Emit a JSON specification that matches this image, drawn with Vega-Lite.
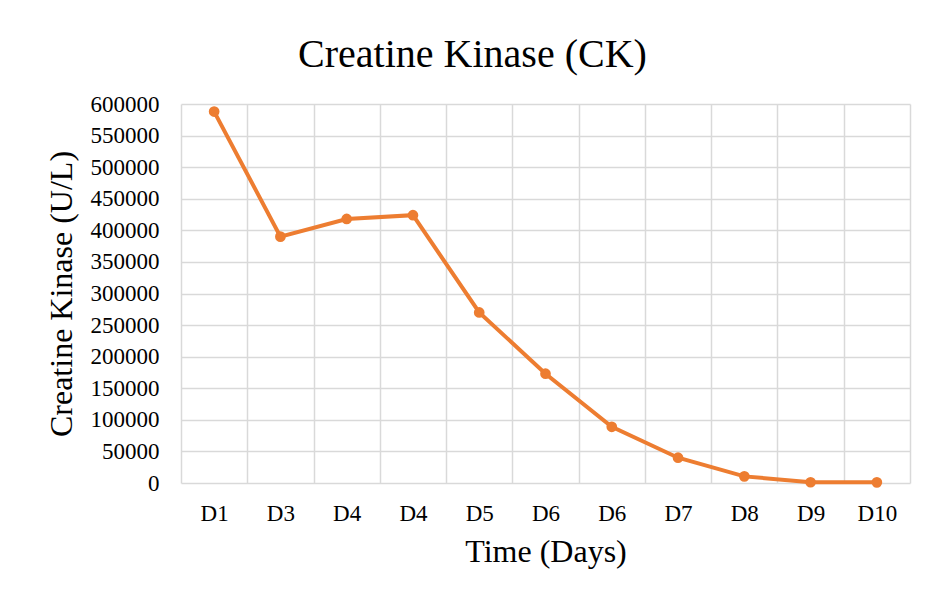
{
  "$schema": "https://vega.github.io/schema/vega-lite/v6.json",
  "autosize": {"type": "none"},
  "width": 729,
  "height": 379,
  "padding": {"left": 181, "top": 104, "right": 23, "bottom": 110},
  "background": "white",
  "title": {
    "text": "Creatine Kinase (CK)",
    "font": "Liberation Serif",
    "fontSize": 40,
    "fontWeight": "normal",
    "color": "black",
    "anchor": "middle",
    "baseline": "alphabetic",
    "offset": -14,
    "dx": -73
  },
  "data": {
    "values": [
      {"day": "D1", "ck": 588000},
      {"day": "D3", "ck": 390000},
      {"day": "D4a", "ck": 418000},
      {"day": "D4b", "ck": 424000},
      {"day": "D5", "ck": 270000},
      {"day": "D6a", "ck": 173000},
      {"day": "D6b", "ck": 89000},
      {"day": "D7", "ck": 40000},
      {"day": "D8", "ck": 10500},
      {"day": "D9", "ck": 1200},
      {"day": "D10", "ck": 1000}
    ]
  },
  "mark": {"type": "line", "color": "#ED7D31", "strokeWidth": 4, "point": {"filled": true, "size": 115, "color": "#ED7D31"}},
  "encoding": {
    "x": {
      "field": "day",
      "type": "nominal",
      "sort": null,
      "scale": {"type": "band", "paddingInner": 0, "paddingOuter": 0},
      "axis": {
        "title": "Time (Days)",
        "labelExpr": "replace(datum.label, regexp('[ab]$'), '')",
        "labelAngle": 0,
        "tickBand": "extent",
        "ticks": false,
        "domain": false,
        "grid": true,
        "labelPadding": 19,
        "titlePadding": 11
      }
    },
    "y": {
      "field": "ck",
      "type": "quantitative",
      "scale": {"domain": [0, 600000], "nice": false},
      "axis": {
        "title": "Creatine Kinase (U/L)",
        "values": [0, 50000, 100000, 150000, 200000, 250000, 300000, 350000, 400000, 450000, 500000, 550000, 600000],
        "format": "d",
        "ticks": false,
        "domain": false,
        "labelPadding": 22,
        "titlePadding": 12
      }
    }
  },
  "config": {
    "view": {"stroke": null},
    "axis": {
      "labelFont": "Liberation Serif",
      "labelFontSize": 23,
      "labelColor": "black",
      "titleFont": "Liberation Serif",
      "titleFontSize": 32,
      "titleFontWeight": "normal",
      "titleColor": "black",
      "gridColor": "#D9D9D9",
      "gridWidth": 1.5,
      "gridOpacity": 1
    }
  }
}
